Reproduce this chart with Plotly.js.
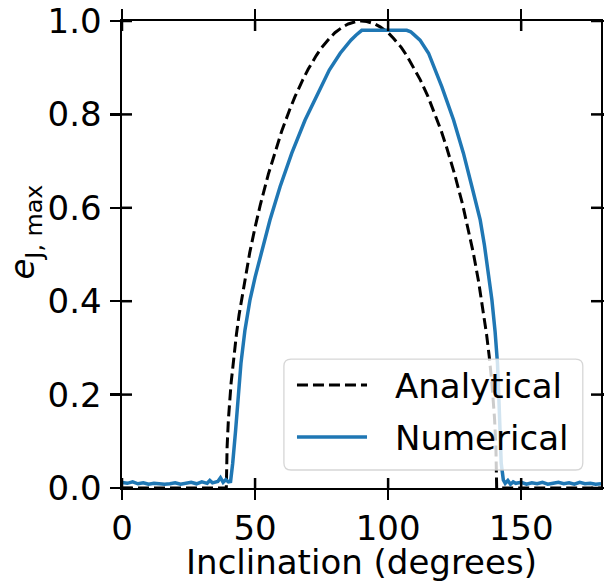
<!DOCTYPE html>
<html>
<head>
<meta charset="utf-8">
<script src="https://cdn.plot.ly/plotly-3.0.1.min.js"></script>
<style>html,body{margin:0;padding:0;background:#fff;}#chart{width:604px;height:582px;}</style>
</head>
<body>
<div id="chart"></div>
<script>
// Analytical curve
const analyticalInc = [0, 39.2, 39.5, 40, 41, 42, 43, 44, 46, 48, 50, 52, 55, 58, 60, 63, 65, 68, 70, 73, 75, 78, 80, 83, 85, 88, 90,
  92, 95, 97, 100, 102, 105, 107, 110, 112, 115, 117, 120, 122, 125, 128, 130, 132, 134, 136, 137, 138, 139, 140, 140.5, 140.8, 180];
const analyticalE = [0, 0, 0.088, 0.148, 0.225, 0.282, 0.329, 0.371, 0.442, 0.504, 0.558, 0.607, 0.672, 0.729, 0.764, 0.810, 0.838, 0.875, 0.897, 0.926, 0.943, 0.963, 0.975, 0.9875, 0.9936, 0.999, 1.0,
  0.999, 0.9936, 0.9875, 0.975, 0.963, 0.943, 0.926, 0.897, 0.875, 0.838, 0.810, 0.764, 0.729, 0.672, 0.607, 0.558, 0.504, 0.442, 0.371, 0.329, 0.282, 0.225, 0.148, 0.088, 0, 0];

// Numerical curve
const numericalInc = [0, 2, 4, 6, 8, 10, 12, 14, 16, 18, 20, 22, 24, 26, 28, 30, 32, 33, 34, 36, 37, 38, 39, 40, 40.8,
  41.6, 42.7, 43.7, 44.7, 46.2, 48.1, 50, 52, 54, 55.6, 59.4, 63.8, 68.8, 74.7, 77.9, 82.0, 86.0, 88.0, 90.1,
  107.0, 108.5, 109.5, 112.0, 115.2, 117.7, 120.2, 124.6, 128.3, 131.5, 134.6, 136.2, 137.7, 139.0, 140.2, 141.1, 141.6, 142.1, 142.5, 143.3,
  144, 145, 146, 147, 148, 150, 152, 154, 156, 158, 160, 162, 164, 166, 168, 170, 172, 174, 176, 178, 180];
const numericalE = [0.012, 0.010, 0.013, 0.009, 0.011, 0.008, 0.010, 0.009, 0.008, 0.009, 0.011, 0.008, 0.010, 0.012, 0.009, 0.013, 0.010, 0.016, 0.011, 0.014, 0.022, 0.012, 0.018, 0.013, 0.014,
  0.053, 0.124, 0.196, 0.267, 0.338, 0.403, 0.451, 0.497, 0.540, 0.574, 0.645, 0.717, 0.788, 0.859, 0.895, 0.931, 0.959, 0.970, 0.980,
  0.980, 0.977, 0.972, 0.959, 0.931, 0.895, 0.859, 0.788, 0.717, 0.645, 0.574, 0.520, 0.460, 0.403, 0.335, 0.267, 0.196, 0.124, 0.053, 0.017,
  0.010, 0.016, 0.008, 0.013, 0.010, 0.012, 0.008, 0.011, 0.009, 0.012, 0.008, 0.010, 0.012, 0.009, 0.011, 0.008, 0.012, 0.009, 0.010, 0.008, 0.009];

const legendNames = ['Analytical', 'Numerical'];
const xTicks = [0, 50, 100, 150];
const yTicks = [0, 0.2, 0.4, 0.6, 0.8, 1.0];

const FONT = 'DejaVu Sans, Arial, sans-serif';
const FS = 34;
const BLUE = '#1f77b4';
const TICKLEN = 10, TICKW = 2.5;

const traces = [
  {x: analyticalInc, y: analyticalE, type: 'scatter', mode: 'lines', name: legendNames[0],
   line: {color: 'black', width: 3, dash: '11px,5px'}, showlegend: false, hoverinfo: 'skip'},
  {x: numericalInc, y: numericalE, type: 'scatter', mode: 'lines', name: legendNames[1],
   line: {color: BLUE, width: 3.5}, showlegend: false, hoverinfo: 'skip'}
];

// inward halves of the in/out ticks (matplotlib direction 'inout'), placed through the axes scales
const tickLine = {color: 'black', width: TICKW};
const inwardTicks = [];
xTicks.forEach(v => {
  inwardTicks.push({type: 'line', xref: 'x', yref: 'paper', ysizemode: 'pixel', yanchor: 0, x0: v, x1: v, y0: 0, y1: TICKLEN, layer: 'above', line: tickLine});
  inwardTicks.push({type: 'line', xref: 'x', yref: 'paper', ysizemode: 'pixel', yanchor: 1, x0: v, x1: v, y0: 0, y1: -TICKLEN, layer: 'above', line: tickLine});
});
yTicks.forEach(v => {
  inwardTicks.push({type: 'line', xref: 'paper', yref: 'y', xsizemode: 'pixel', xanchor: 0, x0: 0, x1: TICKLEN, y0: v, y1: v, layer: 'above', line: tickLine});
  inwardTicks.push({type: 'line', xref: 'paper', yref: 'y', xsizemode: 'pixel', xanchor: 1, x0: 0, x1: -TICKLEN, y0: v, y1: v, layer: 'above', line: tickLine});
});

// legend geometry (paper units)
const lx0 = 0.338, lx1 = 0.962, ly0 = 0.0385, ly1 = 0.276, rx = 0.015, ry = 0.015;
const boxPath = `M ${lx0+rx},${ly0} L ${lx1-rx},${ly0} Q ${lx1},${ly0} ${lx1},${ly0+ry} L ${lx1},${ly1-ry} Q ${lx1},${ly1} ${lx1-rx},${ly1} L ${lx0+rx},${ly1} Q ${lx0},${ly1} ${lx0},${ly1-ry} L ${lx0},${ly0+ry} Q ${lx0},${ly0} ${lx0+rx},${ly0} Z`;

const legendShapes = [
  {type: 'path', xref: 'paper', yref: 'paper', path: boxPath, layer: 'above',
   fillcolor: 'rgba(255,255,255,0.8)', line: {color: 'rgba(204,204,204,0.8)', width: 1.3}},
  {type: 'line', xref: 'paper', yref: 'paper', x0: 0.3653, x1: 0.5115, y0: 0.2206, y1: 0.2206, layer: 'above',
   line: {color: 'black', width: 3, dash: '11px,5px'}},
  {type: 'line', xref: 'paper', yref: 'paper', x0: 0.3653, x1: 0.5115, y0: 0.1092, y1: 0.1092, layer: 'above',
   line: {color: BLUE, width: 3.5}}
];

const layout = {
  width: 604, height: 582,
  margin: {l: 122, r: 3, t: 21, b: 94},
  paper_bgcolor: 'white', plot_bgcolor: 'white',
  font: {family: FONT, size: FS, color: 'black'},
  showlegend: false,
  xaxis: {
    range: [0, 180], tickvals: xTicks, ticktext: xTicks.map(String), ticks: 'outside', mirror: 'ticks',
    ticklen: TICKLEN, tickwidth: TICKW, tickcolor: 'black', showgrid: false, zeroline: false,
    showline: true, linecolor: 'black', linewidth: 1.6,
    title: {text: 'Inclination (degrees)', font: {size: FS}, standoff: 3},
    tickfont: {size: FS}
  },
  yaxis: {
    range: [0, 1.0], tickvals: yTicks, ticktext: yTicks.map(v => v.toFixed(1)), ticks: 'outside', mirror: 'ticks',
    ticklen: TICKLEN, tickwidth: TICKW, tickcolor: 'black', showgrid: false, zeroline: false,
    showline: true, linecolor: 'black', linewidth: 1.6, ticklabelstandoff: 2,
    tickfont: {size: FS}
  },
  shapes: inwardTicks.concat(legendShapes),
  annotations: [
    {xref: 'paper', yref: 'paper', x: 0.566, y: 0.2175, xanchor: 'left', yanchor: 'middle', text: legendNames[0], showarrow: false, font: {size: FS}},
    {xref: 'paper', yref: 'paper', x: 0.566, y: 0.1060, xanchor: 'left', yanchor: 'middle', text: legendNames[1], showarrow: false, font: {size: FS}},
    {xref: 'paper', yref: 'paper', x: -0.2025, y: 0.547, xanchor: 'center', yanchor: 'middle', textangle: -90,
     text: '<i>e</i><sub>J, max</sub>', showarrow: false, font: {size: FS}}
  ]
};

Plotly.newPlot('chart', traces, layout, {displayModeBar: false, staticPlot: true});
</script>
</body>
</html>
